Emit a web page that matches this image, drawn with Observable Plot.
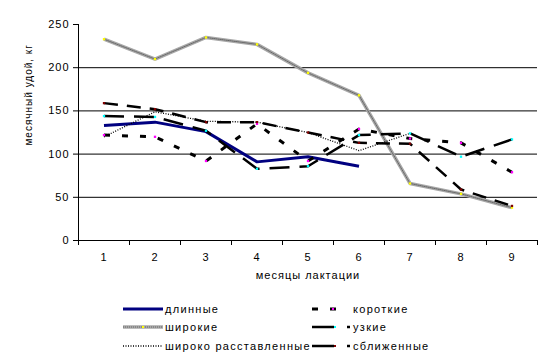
<!DOCTYPE html>
<html>
<head>
<meta charset="utf-8">
<script src="https://cdn.jsdelivr.net/npm/d3@7"></script>
<script src="https://cdn.jsdelivr.net/npm/@observablehq/plot@0.6"></script>
<style>
  html, body { margin: 0; padding: 0; background: white; }
  #wrap { position: relative; width: 553px; height: 360px; font-family: "Liberation Sans", Arial, sans-serif; }
  #wrap svg text { letter-spacing: 1px; }
  .leg { position: absolute; display: flex; align-items: center; font-size: 11px; letter-spacing: 1.3px; color: black; white-space: nowrap; }
  .leg svg { display: block; }
</style>
</head>
<body>
<div id="wrap"></div>
<script>
const months = [1, 2, 3, 4, 5, 6, 7, 8, 9];
const yTicks = [0, 50, 100, 150, 200, 250];
const seriesNames = ["длинные", "широкие", "широко расставленные", "короткие", "узкие", "сближенные"];
const dlinnye = [133, 137, 126, 91, 97, 86];
const shirokie = [233, 210, 235, 227, 194, 168, 66, 54, 38];
const shirokoRasst = [120, 149, 138, 137, 125, 104, 124];
const korotkie = [122, 120, 92, 135, 92, 129, 118, 113, 79];
const uzkie = [144, 143, 127, 83, 86, 122, 124, 97, 117];
const sblizhennye = [159, 152, 137, 137, 125, 113, 112, 59, 40];
const xLabel = "месяцы лактации";
const yLabel = "месячный удой, кг";

const valuesList = [dlinnye, shirokie, shirokoRasst, korotkie, uzkie, sblizhennye];
const rows = valuesList.map((vals, i) => vals.map((v, j) => ({month: months[j], value: v, series: seriesNames[i]})));
const bounds = [0.5, ...months.map(m => m + 0.5)];

const styles = {
  "длинные": {stroke: "#000080", strokeWidth: 3},
  "широкие": {stroke: "#a8a8a8", strokeWidth: 3.5},
  "широко расставленные": {stroke: "black", strokeWidth: 1.3, strokeDasharray: "1,1.5"},
  "короткие": {stroke: "black", strokeWidth: 3, strokeDasharray: "6,12"},
  "узкие": {stroke: "black", strokeWidth: 2.5, strokeDasharray: "20,10"},
  "сближенные": {stroke: "black", strokeWidth: 2.5, strokeDasharray: "14,9"}
};
const markerColor = {"широкие": "#ffff00", "короткие": "#ff00ff", "узкие": "#00ffff", "сближенные": "#800000"};

const lineMarks = [];
seriesNames.forEach((name, i) => {
  lineMarks.push(Plot.line(rows[i], {x: "month", y: "value", ...styles[name], strokeLinejoin: "miter", strokeLinecap: "butt"}));
  if (name === "широкие") {
    lineMarks.push(Plot.line(rows[i], {x: "month", y: "value", stroke: "#666", strokeWidth: 1, strokeDasharray: "1,1"}));
  }
});
const dotMarks = Object.keys(markerColor).map(name =>
  Plot.dot(rows[seriesNames.indexOf(name)], {x: "month", y: "value", symbol: "square", r: 1.3, fill: markerColor[name], stroke: "none"}));

const chart = Plot.plot({
  width: 553,
  height: 290,
  marginLeft: 78,
  marginRight: 16,
  marginTop: 24,
  marginBottom: 50,
  style: {fontFamily: "'Liberation Sans', Arial, sans-serif", fontSize: "11px", background: "white", color: "black", overflow: "visible"},
  x: {type: "linear", domain: [0.5, 9.5], axis: null},
  y: {domain: [0, 250], axis: null},
  marks: [
    Plot.ruleY(yTicks.filter(d => d > 0 && d < 250), {stroke: "black", strokeWidth: 1}),
    ...lineMarks,
    ...dotMarks,
    Plot.ruleX([0.5], {stroke: "black", strokeWidth: 1}),
    Plot.ruleY([0], {stroke: "black", strokeWidth: 1}),
    Plot.axisY({ticks: yTicks, tickSize: 5, tickPadding: 4, label: null, stroke: "black", fill: "black", fontSize: 11}),
    Plot.axisX({ticks: bounds, tickSize: 5, tickFormat: () => "", label: null, stroke: "black"}),
    Plot.axisX({ticks: months, tickSize: 0, tickPadding: 13, label: null, fill: "black", fontSize: 11}),
    Plot.text([xLabel], {text: d => d, frameAnchor: "bottom", dy: 38, fontSize: 11, fill: "black"}),
    Plot.text([yLabel], {text: d => d, frameAnchor: "left", rotate: -90, dx: -50, dy: 13, fontSize: 10, fill: "black"})
  ]
});
const wrap = document.getElementById("wrap");
chart.style.position = "absolute";
chart.style.left = "0px";
chart.style.top = "0px";
wrap.appendChild(chart);

// Legend
const legendPos = [
  {left: 123, top: 309}, {left: 123, top: 327}, {left: 123, top: 346},
  {left: 310, top: 309}, {left: 310, top: 327}, {left: 310, top: 346}
];
const legendOrder = ["длинные", "широкие", "широко расставленные", "короткие", "узкие", "сближенные"];
legendOrder.forEach((name, i) => {
  const p = legendPos[i];
  const item = document.createElement("div");
  item.className = "leg";
  item.style.left = p.left + "px";
  item.style.top = (p.top - 8) + "px";
  item.style.height = "16px";
  const isRight = i >= 3;
  const sw = 40;
  const s = d3.create("svg").attr("width", sw).attr("height", 16);
  const st = styles[name];
  let dash = st.strokeDasharray || null;
  let x1 = 0, x2 = sw;
  if (name === "узкие" || name === "сближенные") { dash = "22,13"; x1 = 2; }
  if (name === "короткие") { x1 = 2; x2 = 28; }
  s.append("line").attr("x1", x1).attr("x2", x2).attr("y1", 8).attr("y2", 8)
    .attr("stroke", st.stroke).attr("stroke-width", st.strokeWidth).attr("stroke-dasharray", dash);
  if (name === "широкие") {
    s.append("line").attr("x1", 0).attr("x2", sw).attr("y1", 8).attr("y2", 8)
      .attr("stroke", "#666").attr("stroke-width", 1).attr("stroke-dasharray", "1,1");
  }
  if (markerColor[name]) {
    const mx = name === "короткие" ? 22 : (isRight ? 24 : 19);
    s.append("rect").attr("x", mx).attr("y", 7).attr("width", 2).attr("height", 2).attr("fill", markerColor[name]);
  }
  item.appendChild(s.node());
  const t = document.createElement("span");
  t.textContent = name;
  t.style.marginLeft = isRight ? "3px" : "2px";
  item.appendChild(t);
  wrap.appendChild(item);
});
</script>
</body>
</html>
